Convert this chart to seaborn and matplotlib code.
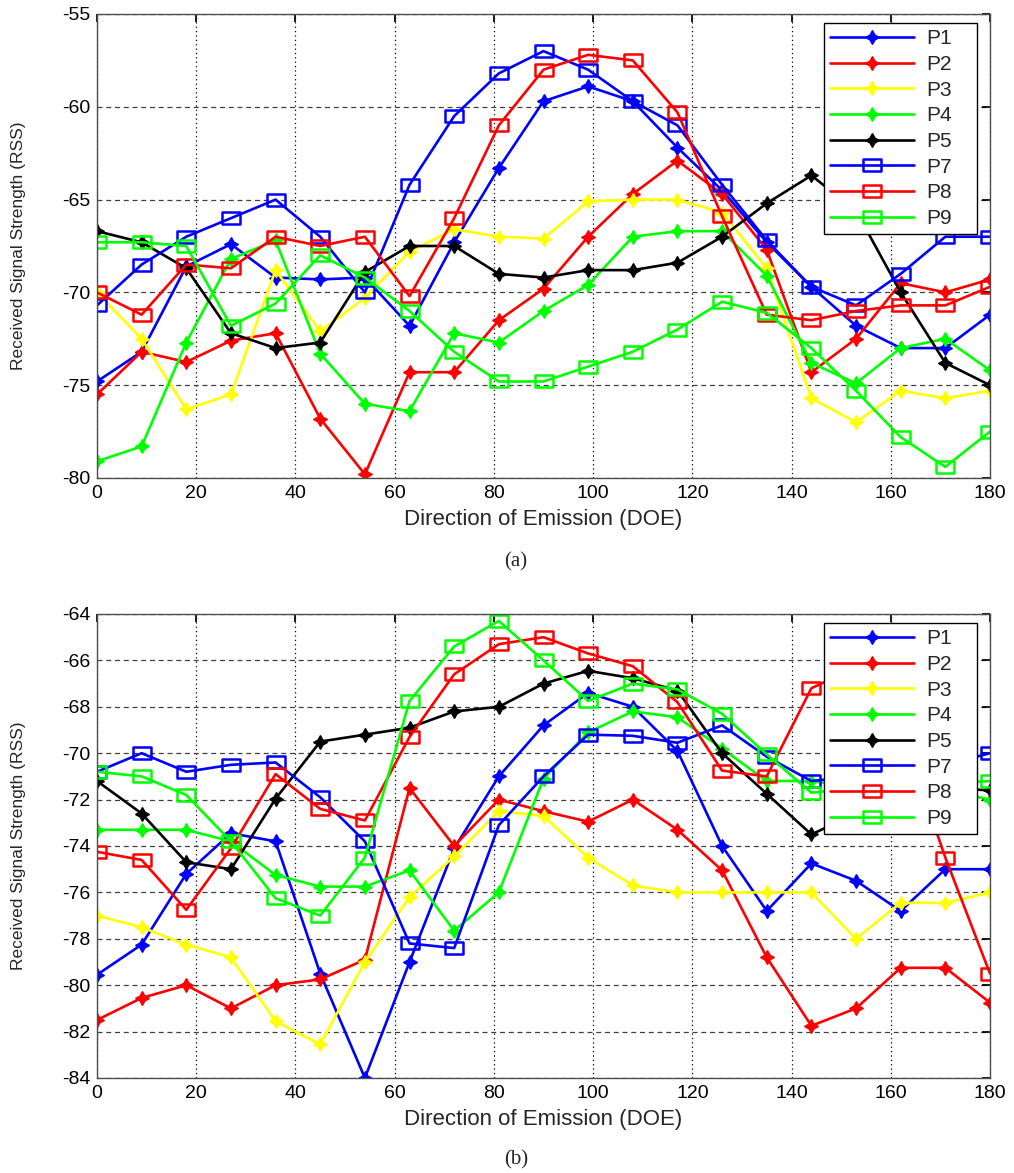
import matplotlib
matplotlib.use("Agg")
import matplotlib.pyplot as plt
from matplotlib.path import Path
import seaborn as sns

# Direction of emission (degrees), shared by both panels
doe = [0, 9, 18, 27, 36, 45, 54, 63, 72, 81, 90, 99, 108, 117, 126, 135, 144, 153, 162, 171, 180]

series_names = ["P1", "P2", "P3", "P4", "P5", "P7", "P8", "P9"]

# Panel (a): received signal strength per position
a_p1 = [-74.8, -73.2, -68.6, -67.4, -69.2, -69.3, -69.2, -71.8, -67.3, -63.3, -59.7, -58.9, -59.7, -62.2, -64.5, -67.3, -69.7, -71.8, -73.0, -73.0, -71.2]
a_p2 = [-75.5, -73.2, -73.75, -72.6, -72.2, -76.8, -79.8, -74.3, -74.3, -71.5, -69.8, -67.0, -64.7, -62.9, -64.7, -67.7, -74.3, -72.5, -69.5, -70.0, -69.3]
a_p3 = [-70.0, -72.5, -76.3, -75.5, -68.8, -72.1, -70.3, -67.8, -66.6, -67.0, -67.1, -65.1, -65.0, -65.0, -65.7, -68.7, -75.7, -77.0, -75.3, -75.7, -75.3]
a_p4 = [-79.1, -78.3, -72.7, -68.2, -67.2, -73.3, -76.0, -76.4, -72.2, -72.7, -71.0, -69.6, -67.0, -66.7, -66.7, -69.1, -73.8, -74.9, -73.0, -72.5, -74.2]
a_p5 = [-66.7, -67.3, -68.7, -72.2, -73.0, -72.7, -68.9, -67.5, -67.5, -69.0, -69.2, -68.8, -68.8, -68.4, -67.0, -65.2, -63.7, -65.6, -70.0, -73.8, -75.0]
a_p7 = [-70.7, -68.5, -67.0, -66.0, -65.0, -67.0, -70.0, -64.2, -60.5, -58.2, -57.0, -58.0, -59.7, -61.0, -64.2, -67.2, -69.7, -70.7, -69.0, -67.0, -67.0]
a_p8 = [-70.0, -71.2, -68.5, -68.7, -67.0, -67.5, -67.0, -70.2, -66.0, -61.0, -58.0, -57.2, -57.5, -60.3, -65.9, -71.2, -71.5, -71.0, -70.7, -70.7, -69.7]
a_p9 = [-67.3, -67.3, -67.5, -71.8, -70.6, -68.0, -69.2, -71.0, -73.2, -74.8, -74.8, -74.0, -73.2, -72.0, -70.5, -71.1, -73.0, -75.3, -77.8, -79.4, -77.5]

# Panel (b): received signal strength per position
b_p1 = [-79.55, -78.25, -75.2, -73.45, -73.8, -79.5, -84.0, -79.0, -74.1, -71.0, -68.8, -67.4, -68.0, -69.9, -74.0, -76.8, -74.75, -75.5, -76.8, -75.0, -75.0]
b_p2 = [-81.5, -80.55, -80.0, -81.0, -80.0, -79.75, -78.9, -71.5, -74.0, -72.0, -72.5, -72.95, -72.0, -73.3, -75.05, -78.8, -81.75, -81.0, -79.25, -79.25, -80.75]
b_p3 = [-77.0, -77.5, -78.25, -78.8, -81.55, -82.55, -79.0, -76.2, -74.45, -72.5, -72.7, -74.5, -75.7, -76.0, -76.0, -76.0, -76.0, -78.0, -76.45, -76.45, -76.0]
b_p4 = [-73.3, -73.3, -73.3, -73.8, -75.25, -75.75, -75.75, -75.05, -77.65, -76.0, -71.1, -69.1, -68.2, -68.45, -69.8, -71.2, -71.2, -71.5, -71.8, -71.6, -72.0]
b_p5 = [-71.2, -72.6, -74.7, -75.0, -71.96, -69.5, -69.2, -68.9, -68.2, -68.0, -67.0, -66.45, -66.77, -67.3, -70.0, -71.75, -73.5, -72.6, -71.8, -71.5, -71.6]
b_p7 = [-70.8, -70.0, -70.8, -70.5, -70.4, -71.9, -73.8, -78.2, -78.4, -73.1, -71.0, -69.2, -69.25, -69.55, -68.8, -70.15, -71.2, -71.0, -70.8, -70.5, -70.0]
b_p8 = [-74.25, -74.6, -76.75, -74.1, -70.9, -72.4, -72.9, -69.3, -66.6, -65.3, -65.0, -65.7, -66.25, -67.8, -70.75, -71.0, -67.2, -66.3, -68.9, -74.5, -79.5]
b_p9 = [-70.8, -71.0, -71.8, -73.8, -76.25, -77.0, -74.5, -67.75, -65.4, -64.3, -66.0, -67.75, -67.0, -67.25, -68.3, -70.05, -71.7, -71.5, -71.4, -71.3, -71.2]

xticks = [0, 20, 40, 60, 80, 100, 120, 140, 160, 180]
a_yticks = [-80, -75, -70, -65, -60, -55]
b_yticks = [-84, -82, -80, -78, -76, -74, -72, -70, -68, -66, -64]

sns.set_theme(style="white")
plt.rcParams["font.family"] = ["Liberation Sans", "DejaVu Sans"]
plt.rcParams["axes.unicode_minus"] = False

# marker shapes: filled four-point star and a hollow flat rectangle
star = (4, 1, 0)
box = Path([(-1, -0.62), (1, -0.62), (1, 0.62), (-1, 0.62), (-1, -0.62)],
           [Path.MOVETO, Path.LINETO, Path.LINETO, Path.LINETO, Path.CLOSEPOLY])

colors = ["#0000ff", "#ff0000", "#ffff00", "#00ff00", "#000000", "#0000ff", "#ff0000", "#00ff00"]
markers = [star, star, star, star, star, box, box, box]
filled = [True, True, True, True, True, False, False, False]

W, H = 1014, 1173
fig = plt.figure(figsize=(W / 100, H / 100), dpi=100)
ax_a = fig.add_axes([97 / W, 1 - 478 / H, 893 / W, 464 / H])
ax_b = fig.add_axes([97 / W, 1 - 1078 / H, 893 / W, 464 / H])


def draw_panel(ax, values, yticks, ylim, caption, caption_y):
    for name, vals, col, mk, fl in zip(series_names, values, colors, markers, filled):
        sns.lineplot(x=doe, y=vals, ax=ax, color=col, lw=1.9,
                     marker=mk, markersize=10 if fl else 13,
                     markerfacecolor=col if fl else "none",
                     markeredgecolor=col, markeredgewidth=1.0 if fl else 1.8,
                     estimator=None, errorbar=None, sort=False, label=name)
    ax.set_xlim(0, 180)
    ax.set_ylim(*ylim)
    ax.set_xticks(xticks)
    ax.set_yticks(yticks)
    ax.set_axisbelow(True)
    ax.xaxis.grid(True, linestyle=(0, (1, 2.5)), color="black", lw=0.9)
    ax.yaxis.grid(True, linestyle=(0, (4, 3)), color="0.25", lw=0.9)
    ax.tick_params(direction="in", length=6, top=True, right=True,
                   labelsize=14, colors="black", pad=5)
    for sp in ax.spines.values():
        sp.set_color("0.3")
        sp.set_linewidth(1.0)
    ax.set_xlabel("Direction of Emission (DOE)", fontsize=16)
    ax.set_ylabel("Received Signal Strength (RSS)", fontsize=12.5)
    ax.xaxis.set_label_coords(0.5, -0.066)
    ax.yaxis.set_label_coords(-0.079, 0.5)
    handles, labels = ax.get_legend_handles_labels()
    leg = ax.legend(handles, labels, loc="upper right", mode="expand",
                    bbox_to_anchor=((824 - 97) / 893, 0, 153 / 893, 1 - 9 / 464),
                    borderaxespad=0, fontsize=15, handlelength=4.0,
                    handletextpad=0.6, labelspacing=0.32, borderpad=0.3,
                    frameon=True, fancybox=False, framealpha=1,
                    edgecolor="black")
    leg.get_frame().set_linewidth(1.0)
    fig.text(516 / W, 1 - caption_y / H, caption, ha="center", va="center",
             fontsize=15, family=["Liberation Serif", "DejaVu Serif"])


draw_panel(ax_a, [a_p1, a_p2, a_p3, a_p4, a_p5, a_p7, a_p8, a_p9],
           a_yticks, (-80, -55), "(a)", 562)
draw_panel(ax_b, [b_p1, b_p2, b_p3, b_p4, b_p5, b_p7, b_p8, b_p9],
           b_yticks, (-84, -64), "(b)", 1160)

fig.savefig("out.png", dpi=100)
